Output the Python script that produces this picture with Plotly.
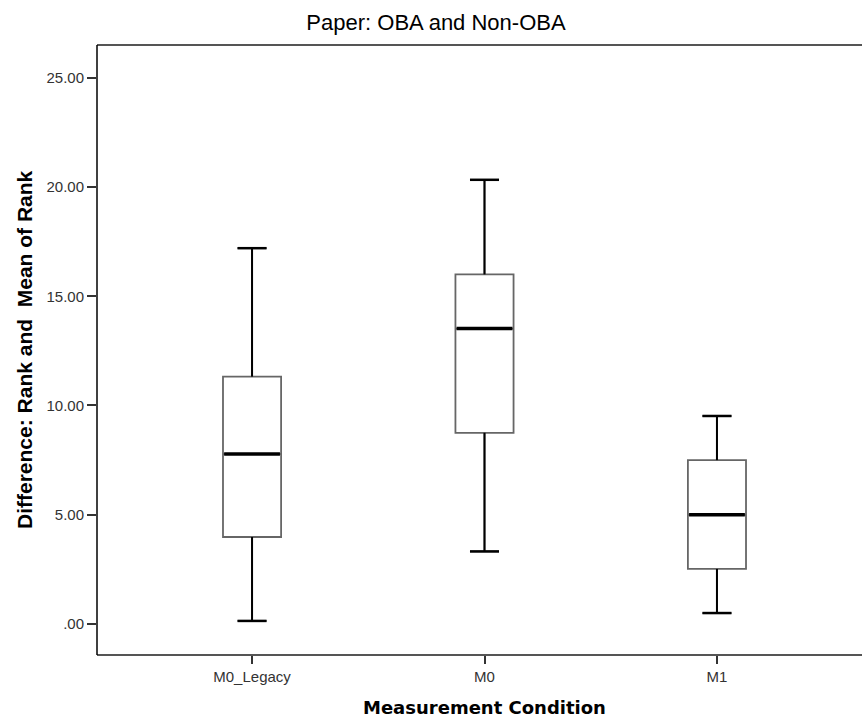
import plotly.graph_objects as go

categories = ["M0_Legacy", "M0", "M1"]
lower_whisker = [0.14, 3.32, 0.50]
q1 = [3.98, 8.75, 2.52]
median = [7.78, 13.52, 5.00]
q3 = [11.32, 16.00, 7.50]
upper_whisker = [17.20, 20.33, 9.52]
y_tickvals = [0, 5, 10, 15, 20, 25]
y_ticktext = [".00", "5.00", "10.00", "15.00", "20.00", "25.00"]

xpos = list(range(len(categories)))
box_w = 0.25
cap_w = 0.125

# the plot area runs past the right edge of the window, as in the reference
W, H = 872, 717

fig = go.Figure()
fig.add_trace(go.Box(
    x=xpos, q1=q1, median=median, q3=q3,
    lowerfence=lower_whisker, upperfence=upper_whisker,
    width=box_w, whiskerwidth=0.5, boxpoints=False,
    fillcolor="white", line=dict(color="#666666", width=1.8),
    hoverinfo="skip", showlegend=False,
))

for i, x in enumerate(xpos):
    fig.add_trace(go.Scatter(x=[x, x], y=[lower_whisker[i], q1[i]], mode="lines",
                             line=dict(color="black", width=2), showlegend=False, hoverinfo="skip"))
    fig.add_trace(go.Scatter(x=[x, x], y=[q3[i], upper_whisker[i]], mode="lines",
                             line=dict(color="black", width=2), showlegend=False, hoverinfo="skip"))
    fig.add_trace(go.Scatter(x=[x - cap_w / 2, x + cap_w / 2], y=[lower_whisker[i]] * 2, mode="lines",
                             line=dict(color="black", width=2.5), showlegend=False, hoverinfo="skip"))
    fig.add_trace(go.Scatter(x=[x - cap_w / 2, x + cap_w / 2], y=[upper_whisker[i]] * 2, mode="lines",
                             line=dict(color="black", width=2.5), showlegend=False, hoverinfo="skip"))
    fig.add_trace(go.Scatter(x=[x - box_w / 2 + 0.005, x + box_w / 2 - 0.005], y=[median[i]] * 2, mode="lines",
                             line=dict(color="black", width=3.5), showlegend=False, hoverinfo="skip"))

fig.update_layout(
    width=W, height=H,
    margin=dict(l=97, r=0, t=45, b=62),
    paper_bgcolor="white", plot_bgcolor="white",
    hovermode=False,
    font=dict(family="Liberation Sans, Arial, sans-serif", color="#222222"),
    title=dict(text="Paper: OBA and Non-OBA", x=436 / W, xref="container", xanchor="center",
               y=1 - 22 / H, yref="container", yanchor="middle",
               font=dict(size=22, color="black", family="Liberation Sans, Arial, sans-serif")),
    xaxis=dict(
        range=[-0.667, 2.667], tickvals=xpos, ticktext=categories,
        showgrid=False, zeroline=False, showline=False,
        ticks="outside", ticklen=8, tickwidth=2, tickcolor="#333333",
        tickfont=dict(size=15, color="#333333"),
    ),
    yaxis=dict(
        range=[-1.42, 26.5], tickvals=y_tickvals, ticktext=y_ticktext,
        showgrid=False, zeroline=False, showline=False,
        ticks="outside", ticklen=9, tickwidth=2, tickcolor="#333333",
        tickfont=dict(size=15, color="#333333"),
    ),
    shapes=[
        dict(type="line", xref="paper", yref="paper", x0=0, x1=1, y0=1, y1=1,
             line=dict(color="#555555", width=2)),
        dict(type="line", xref="paper", yref="paper", x0=0, x1=1, y0=0, y1=0,
             line=dict(color="#555555", width=2)),
        dict(type="line", xref="paper", yref="paper", x0=0, x1=0, y0=0, y1=1,
             line=dict(color="black", width=1.5)),
    ],
    annotations=[
        dict(text="<b>Difference: Rank and  Mean of Rank</b>", xref="paper", yref="paper",
             x=(24 - 97) / (W - 97), y=0.5, textangle=-90, showarrow=False,
             xanchor="center", yanchor="middle",
             font=dict(size=21, color="black", family="Liberation Sans, Arial, sans-serif")),
        dict(text="<b>Measurement Condition</b>", xref="x", yref="paper",
             x=1, y=-(707 - 655) / 610, showarrow=False, xanchor="center", yanchor="middle",
             font=dict(size=18, color="black", family="DejaVu Sans, Verdana, sans-serif")),
    ],
)

fig.write_html(
    "out.html",
    config={"displayModeBar": False},
    post_script="document.body.style.margin='0';document.body.style.overflow='hidden';"
                "document.documentElement.style.overflow='hidden';",
)
